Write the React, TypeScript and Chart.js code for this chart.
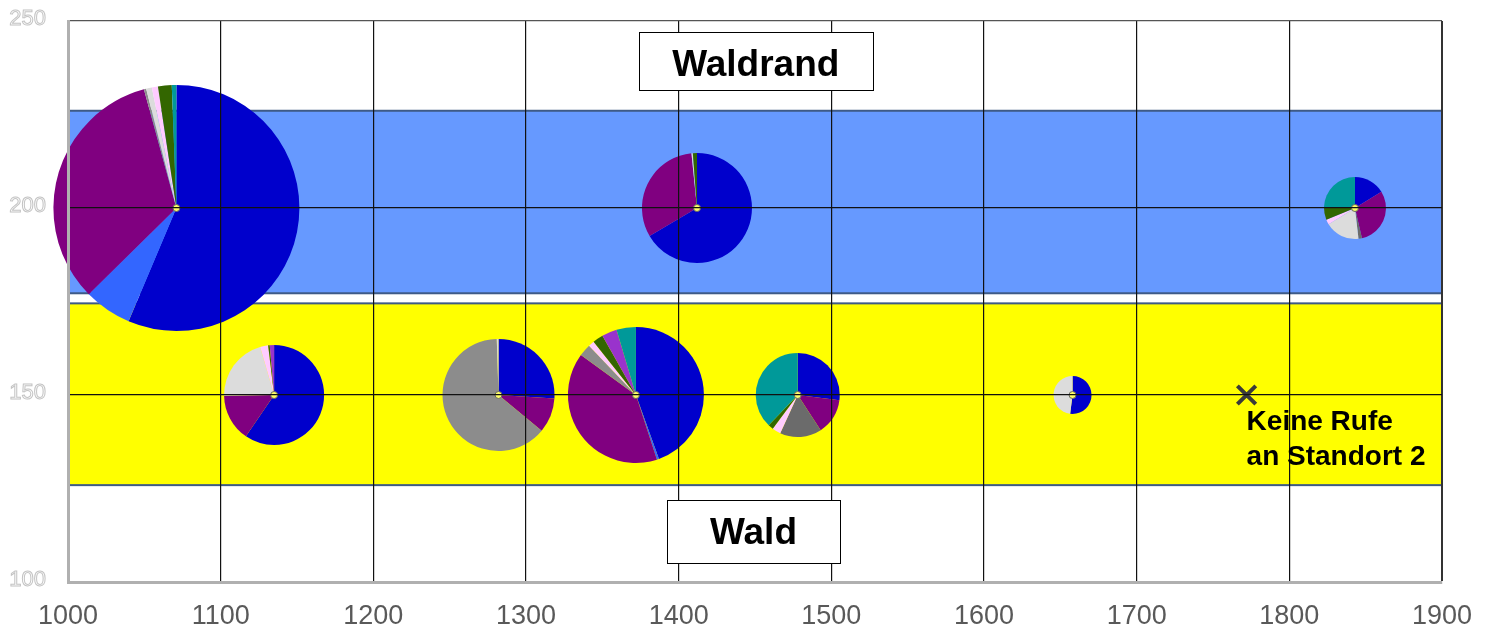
import React, { useEffect, useRef } from 'react';
import { Chart, registerables } from 'chart.js';

Chart.register(...registerables);

// ---- data ----
const xTickValues = [1000, 1100, 1200, 1300, 1400, 1500, 1600, 1700, 1800, 1900];
const yTickLabels = [100, 150, 200, 250];

// species order (clockwise from 12 o'clock)
const speciesNames = ['A', 'B', 'C', 'D', 'E', 'F', 'G', 'H', 'I', 'J'];
const speciesColors = ['#0000cc', '#3366ff', '#800080', '#8c8c8c', '#6b6b6b', '#dcdcdc', '#ffccff', '#336600', '#9933cc', '#009999'];

const pieX = [1071, 1412, 1843, 1135, 1282, 1372, 1478, 1658];
const pieY = [200, 200, 200, 150, 150, 150, 150, 150];
const pieSize = [123, 55, 31, 50, 56, 68, 42, 19];

const shares1 = [56.3, 6.25, 33.1, 0.3, 0, 0.75, 0.8, 1.8, 0, 0.6];
const shares2 = [66.4, 0, 31.8, 0, 0, 0.4, 0, 1.2, 0, 0];
const shares3 = [16.2, 0, 30.2, 0, 1.8, 18, 2.6, 6.7, 0, 24.5];
const shares4 = [59.4, 0, 15.2, 0, 0, 20.7, 2.6, 0.5, 1.4, 0];
const shares5 = [26, 0, 10, 63.5, 0, 0.5, 0, 0, 0, 0];
const shares6 = [44.5, 0.5, 40, 2.9, 0, 0, 1.4, 2.5, 3.6, 4.6];
const shares7 = [27, 0, 13.75, 0, 16, 0, 3.3, 2, 0, 37.8];
const shares8 = [52, 0, 0, 0, 0, 48, 0, 0, 0, 0];
const pieShares = [shares1, shares2, shares3, shares4, shares5, shares6, shares7, shares8];

const bandEdge = [226, 177.2];
const bandWald = [174.5, 125.9];

const noCallX = [1772];
const noCallY = [150];

const habitatLabels = ['Waldrand', 'Wald'];
const habitatLabelX = [1450.5, 1449];
const habitatLabelY = [239.3, 113.5];
const noCallText = ['Keine Rufe', 'an Standort 2'];

const FONT = '"Liberation Sans", Arial, sans-serif';

const overlayPlugin = {
  id: 'overlay',
  beforeDatasetsDraw(chart: any) {
    const { ctx, chartArea, scales } = chart;
    const y = scales.y;
    const band = (range: number[], fill: string) => {
      const top = y.getPixelForValue(range[0]);
      const bot = y.getPixelForValue(range[1]);
      ctx.save();
      ctx.fillStyle = fill;
      ctx.fillRect(chartArea.left, top, chartArea.right - chartArea.left, bot - top);
      ctx.strokeStyle = '#3e5a86';
      ctx.lineWidth = 2;
      ctx.strokeRect(chartArea.left, top, chartArea.right - chartArea.left, bot - top);
      ctx.restore();
    };
    band(bandEdge, '#6699ff');
    band(bandWald, '#ffff00');

    const meta = chart.getDatasetMeta(0);
    meta.data.forEach((el: any, i: number) => {
      const r = pieSize[i];
      const shares = pieShares[i];
      const total = shares.reduce((a, b) => a + b, 0);
      let a = -Math.PI / 2;
      ctx.save();
      shares.forEach((v, k) => {
        if (!v) return;
        const da = (v / total) * Math.PI * 2;
        ctx.beginPath();
        ctx.moveTo(el.x, el.y);
        ctx.arc(el.x, el.y, r, a, a + da);
        ctx.closePath();
        ctx.fillStyle = speciesColors[k];
        ctx.fill();
        a += da;
      });
      ctx.restore();
    });
  },
  afterDraw(chart: any) {
    const { ctx, scales } = chart;
    const x = scales.x;
    const y = scales.y;
    ctx.save();
    // hollow y tick labels
    ctx.font = `22px ${FONT}`;
    ctx.textAlign = 'right';
    ctx.textBaseline = 'middle';
    ctx.strokeStyle = '#c4c4c4';
    ctx.lineWidth = 1;
    yTickLabels.forEach((v) => {
      ctx.strokeText(String(v), 46, y.getPixelForValue(v) - 2);
    });

    // habitat label boxes
    const boxW = [234, 173];
    const boxH = [58, 63];
    const textDy = [5, 2];
    habitatLabels.forEach((t, i) => {
      const cx = x.getPixelForValue(habitatLabelX[i]);
      const cy = y.getPixelForValue(habitatLabelY[i]);
      ctx.fillStyle = '#ffffff';
      ctx.fillRect(cx - boxW[i] / 2, cy - boxH[i] / 2, boxW[i], boxH[i]);
      ctx.strokeStyle = '#000000';
      ctx.lineWidth = 1;
      ctx.strokeRect(Math.round(cx - boxW[i] / 2) + 0.5, Math.round(cy - boxH[i] / 2) + 0.5, boxW[i], boxH[i]);
      ctx.fillStyle = '#000000';
      ctx.font = `bold 37px ${FONT}`;
      ctx.textAlign = 'center';
      ctx.textBaseline = 'middle';
      ctx.fillText(t, cx, cy + textDy[i]);
    });

    // no-call note
    const nx = x.getPixelForValue(noCallX[0]);
    const ny = y.getPixelForValue(noCallY[0]);
    ctx.fillStyle = '#000000';
    ctx.font = `bold 28px ${FONT}`;
    ctx.textAlign = 'left';
    ctx.textBaseline = 'alphabetic';
    ctx.fillText(noCallText[0], nx, ny + 35);
    ctx.fillText(noCallText[1], nx, ny + 70);
    ctx.restore();
  },
};

export default function App() {
  const ref = useRef<HTMLCanvasElement | null>(null);
  useEffect(() => {
    if (!ref.current) return;
    const centers = pieX.map((px, i) => ({ x: px, y: pieY[i] }));
    const chart = new Chart(ref.current, {
      type: 'bubble',
      data: {
        datasets: [
          {
            type: 'bubble',
            label: 'pies',
            data: pieX.map((px, i) => ({ x: px, y: pieY[i], r: pieSize[i] })),
            backgroundColor: 'rgba(0,0,0,0)',
            borderWidth: 0,
            hoverRadius: 0,
          } as any,
          {
            type: 'scatter',
            label: 'centers',
            data: centers,
            pointRadius: 3.5,
            pointBackgroundColor: '#ffff66',
            pointBorderColor: '#666666',
            pointBorderWidth: 1,
          } as any,
          {
            type: 'scatter',
            label: 'none',
            data: noCallX.map((v, i) => ({ x: v, y: noCallY[i] })),
            pointStyle: 'crossRot',
            pointRadius: 13,
            pointBorderWidth: 4,
            pointBorderColor: '#3a3a3a',
          } as any,
        ],
      },
      options: {
        animation: false,
        responsive: false,
        devicePixelRatio: 1,
        events: [],
        layout: { autoPadding: false, padding: { top: 21, right: 51, left: 0, bottom: 0 } },
        plugins: { legend: { display: false }, tooltip: { enabled: false } },
        scales: {
          x: {
            type: 'linear',
            min: 1000,
            max: 1900,
            afterFit: (s: any) => {
              s.height = 48;
            },
            afterBuildTicks: (s: any) => {
              s.ticks = xTickValues.map((v) => ({ value: v }));
            },
            ticks: {
              callback: (v: any) => String(v),
              font: { size: 27, family: FONT },
              color: '#595959',
              padding: 18,
              maxRotation: 0,
            },
            grid: {
              z: 1,
              drawTicks: false,
              color: (c: any) => (c.tick && c.tick.value === 1000 ? 'rgba(0,0,0,0)' : c.tick && c.tick.value === 1900 ? '#333333' : '#111111'),
              lineWidth: (c: any) => (c.tick && c.tick.value === 1900 ? 2 : 1.2),
            },
            border: { color: '#b0b0b0', width: 3, z: 2 },
          },
          y: {
            type: 'linear',
            min: 100,
            max: 250,
            afterFit: (s: any) => {
              s.width = 68;
            },
            afterBuildTicks: (s: any) => {
              s.ticks = yTickLabels.map((v) => ({ value: v }));
            },
            ticks: { display: false },
            grid: {
              z: 1,
              drawTicks: false,
              color: (c: any) => (c.tick && c.tick.value === 100 ? 'rgba(0,0,0,0)' : c.tick && c.tick.value === 250 ? '#555555' : '#111111'),
              lineWidth: 1.2,
            },
            border: { color: '#b0b0b0', width: 3, z: 2 },
          },
        },
      } as any,
      plugins: [overlayPlugin],
    });
    return () => chart.destroy();
  }, []);
  return (
    <div style={{ position: 'fixed', left: 0, top: 0, width: 1493, height: 630, background: '#ffffff' }}>
      <canvas ref={ref} width={1493} height={630} style={{ display: 'block' }} />
    </div>
  );
}
